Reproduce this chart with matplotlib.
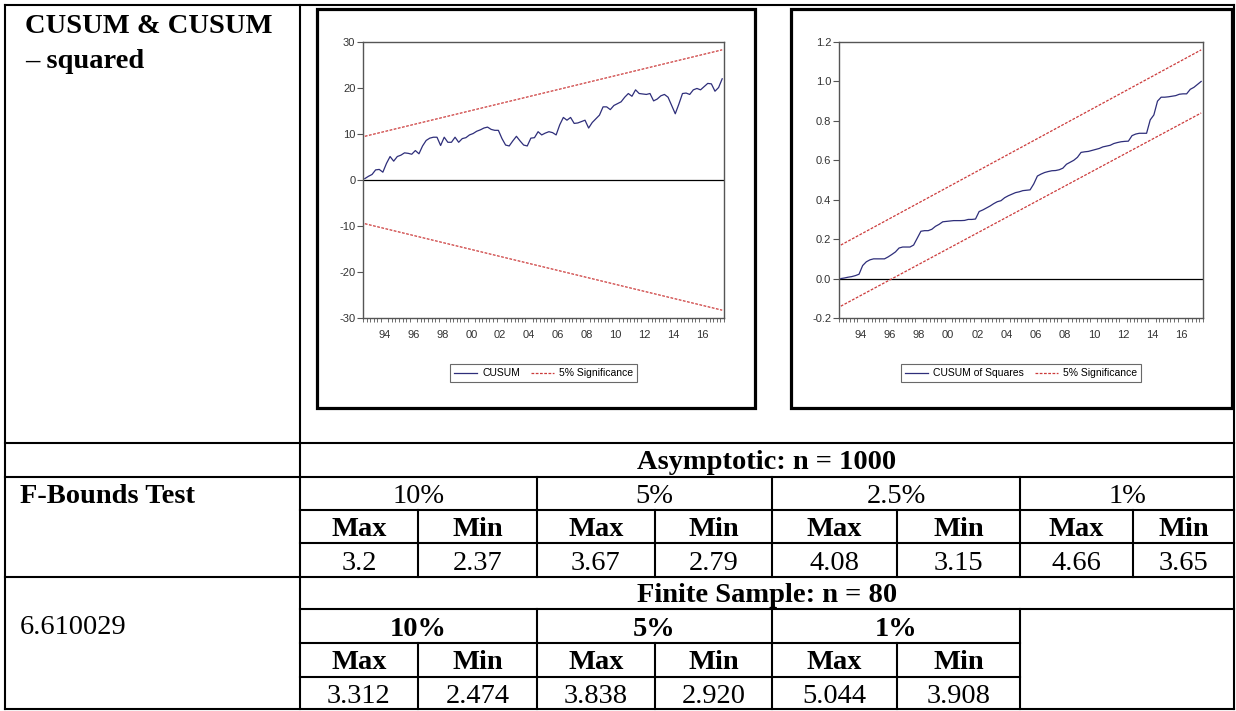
import numpy as np
import pandas as pd
import matplotlib
matplotlib.use("Agg")
import matplotlib.pyplot as plt
from matplotlib.patches import Rectangle

plt.rcParams["axes.unicode_minus"] = False

# ---- data ----
quarters = pd.period_range("1993Q1", "2017Q4", freq="Q")

cusum = [0.3, 0.8, 1.2, 2.2,
         2.3, 1.7, 3.6, 5.1,
         4.1, 5.1, 5.4, 5.9,
         5.8, 5.6, 6.4, 5.7,
         7.4, 8.6, 9.1, 9.3,
         9.3, 7.5, 9.3, 8.2,
         8.2, 9.3, 8.2, 9.0,
         9.2, 9.8, 10.1, 10.6,
         10.9, 11.3, 11.5, 11.0,
         10.8, 10.8, 9.0, 7.6,
         7.4, 8.5, 9.5, 8.5,
         7.6, 7.4, 9.1, 9.2,
         10.5, 9.8, 10.2, 10.5,
         10.3, 9.8, 12.0, 13.6,
         13.0, 13.6, 12.3, 12.4,
         12.7, 13.0, 11.3, 12.5,
         13.3, 14.1, 15.9, 15.9,
         15.3, 16.2, 16.6, 17.0,
         18.0, 18.8, 18.2, 19.6,
         18.8, 18.7, 18.6, 18.8,
         17.2, 17.6, 18.3, 18.6,
         18.0, 16.2, 14.4, 16.5,
         18.8, 18.9, 18.6, 19.6,
         19.9, 19.6, 20.3, 21.0,
         20.9, 19.3, 20.1, 22.0]

cusumsq = [0.000, 0.003, 0.007, 0.010,
           0.015, 0.022, 0.066, 0.085,
           0.095, 0.100, 0.100, 0.100,
           0.100, 0.110, 0.122, 0.135,
           0.155, 0.160, 0.160, 0.160,
           0.170, 0.205, 0.240, 0.243,
           0.243, 0.250, 0.265, 0.275,
           0.288, 0.290, 0.292, 0.294,
           0.294, 0.294, 0.295, 0.300,
           0.300, 0.302, 0.340, 0.348,
           0.358, 0.368, 0.380, 0.390,
           0.395, 0.410, 0.420, 0.428,
           0.436, 0.440, 0.446, 0.448,
           0.450, 0.480, 0.520, 0.530,
           0.538, 0.543, 0.547, 0.548,
           0.552, 0.560, 0.580, 0.590,
           0.600, 0.615, 0.640, 0.643,
           0.645, 0.650, 0.655, 0.660,
           0.668, 0.672, 0.676, 0.685,
           0.690, 0.694, 0.696, 0.697,
           0.725, 0.733, 0.737, 0.737,
           0.737, 0.805, 0.830, 0.900,
           0.920, 0.920, 0.922, 0.925,
           0.928, 0.935, 0.937, 0.937,
           0.960, 0.970, 0.985, 1.000]

band_quarters = pd.PeriodIndex(["1993Q1", "2017Q4"], freq="Q")
cusum_upper = [9.5, 28.3]
cusum_lower = [-9.5, -28.3]
cusumsq_upper = [0.17, 1.16]
cusumsq_lower = [-0.14, 0.84]

year_labels = ["94", "96", "98", "00", "02", "04", "06", "08", "10", "12", "14", "16"]
label_years = [1994, 1996, 1998, 2000, 2002, 2004, 2006, 2008, 2010, 2012, 2014, 2016]

asym_levels = ["10%", "5%", "2.5%", "1%"]
asym_max = ["3.2", "3.67", "4.08", "4.66"]
asym_min = ["2.37", "2.79", "3.15", "3.65"]
finite_levels = ["10%", "5%", "1%"]
finite_max = ["3.312", "3.838", "5.044"]
finite_min = ["2.474", "2.920", "3.908"]
f_stat = "6.610029"


def qpos(idx):
    # mid-quarter position in decimal years
    return idx.year + (idx.quarter - 0.5) / 4.0


W, H = 1236, 711
fig = plt.figure(figsize=(W / 100, H / 100), dpi=100)
fig.patch.set_facecolor("white")


def px_axes(x0, y0, x1, y1):
    return fig.add_axes([x0 / W, 1 - y1 / H, (x1 - x0) / W, (y1 - y0) / H])


# ---- table overlay ----
ov = fig.add_axes([0, 0, 1, 1])
ov.set_xlim(0, W)
ov.set_ylim(H, 0)
ov.axis("off")

lw_t = 1.5
def hline(y, x0, x1):
    ov.plot([x0, x1], [y, y], color="black", lw=lw_t, solid_capstyle="projecting")
def vline(x, y0, y1):
    ov.plot([x, x], [y0, y1], color="black", lw=lw_t, solid_capstyle="projecting")

L, R, T, B = 5, 1234, 5, 709
for y in [T, 443, 477, 577, B]:
    hline(y, L, R)
for y in [510, 543, 609]:
    hline(y, 300, R)
for y in [643, 677]:
    hline(y, 300, 1020)
for x in [L, 300, R]:
    vline(x, T, B)
for x in [537, 772, 1020]:
    vline(x, 477, 577)
    vline(x, 609, B)
for x in [418, 655, 897, 1133]:
    vline(x, 510, 577)
for x in [418, 655, 897]:
    vline(x, 643, B)

serif = ["Liberation Serif", "DejaVu Serif"]
fs = 20.5
ov.text(25, 33, "CUSUM & CUSUM", family=serif, fontsize=fs, fontweight="bold", va="baseline")
ov.text(25, 68, "\u2013 squared", family=serif, fontsize=fs, fontweight="bold", va="baseline")
ov.text(20, 503, "F-Bounds Test", family=serif, fontsize=fs, fontweight="bold", va="baseline")
ov.text(20, 634, f_stat, family=serif, fontsize=fs, va="baseline")
ov.text(767, 469, "Asymptotic: n = 1000", family=serif, fontsize=fs, fontweight="bold",
        va="baseline", ha="center")
ov.text(767, 602, "Finite Sample: n = 80", family=serif, fontsize=fs, fontweight="bold",
        va="baseline", ha="center")

edges = [300, 418, 537, 655, 772, 897, 1020, 1133, 1234]
for i, lab in enumerate(asym_levels):
    xc = (edges[2 * i] + edges[2 * i + 2]) / 2
    ov.text(xc, 503, lab, family=serif, fontsize=fs, ha="center", va="baseline")
    for j, (hdr, val) in enumerate([("Max", asym_max[i]), ("Min", asym_min[i])]):
        xs = (edges[2 * i + j] + edges[2 * i + j + 1]) / 2
        ov.text(xs, 536, hdr, family=serif, fontsize=fs, fontweight="bold", ha="center", va="baseline")
        ov.text(xs, 570, val, family=serif, fontsize=fs, ha="center", va="baseline")
for i, lab in enumerate(finite_levels):
    xc = (edges[2 * i] + edges[2 * i + 2]) / 2
    ov.text(xc, 636, lab, family=serif, fontsize=fs, fontweight="bold", ha="center", va="baseline")
    for j, (hdr, val) in enumerate([("Max", finite_max[i]), ("Min", finite_min[i])]):
        xs = (edges[2 * i + j] + edges[2 * i + j + 1]) / 2
        ov.text(xs, 669, hdr, family=serif, fontsize=fs, fontweight="bold", ha="center", va="baseline")
        ov.text(xs, 703, val, family=serif, fontsize=fs, ha="center", va="baseline")

# chart frames
ov.add_patch(Rectangle((317, 9), 755 - 317, 408 - 9, fill=False, lw=2.3, edgecolor="black"))
ov.add_patch(Rectangle((791, 9), 1232 - 791, 408 - 9, fill=False, lw=2.3, edgecolor="black"))

# ---- charts ----
sans = ["Liberation Sans Narrow", "Liberation Sans", "DejaVu Sans"]
navy = "#2e2e7a"
red = "#cc3b3b"
dash = (0, (2.2, 1.2))


def style_chart(ax):
    ax.set_xlim(1993, 2018)
    for s in ax.spines.values():
        s.set_color("#555555")
        s.set_linewidth(1.0)
    ax.set_xticks([y + 0.5 for y in label_years])
    ax.set_xticklabels(year_labels)
    ax.set_xticks(np.arange(1993, 2018.01, 0.25), minor=True)
    ax.tick_params(axis="x", which="major", length=0, pad=9)
    ax.tick_params(axis="x", which="minor", length=3, direction="out", color="#555555")
    ax.tick_params(axis="y", length=4, direction="out", color="#555555", pad=1.5)
    for lab in ax.get_xticklabels() + ax.get_yticklabels():
        lab.set_family(sans)
        lab.set_fontsize(8)
        lab.set_color("#333333")
    ax.axhline(0, color="black", lw=0.9, zorder=1)


ax1 = px_axes(363, 42, 724, 318)
ax1.plot(qpos(quarters), cusum, color=navy, lw=0.9, label="CUSUM")
ax1.plot(qpos(band_quarters), cusum_upper, color=red, lw=0.9, ls=dash, label="5% Significance")
ax1.plot(qpos(band_quarters), cusum_lower, color=red, lw=0.9, ls=dash)
ax1.set_ylim(-30, 30)
ax1.set_yticks([-30, -20, -10, 0, 10, 20, 30])
style_chart(ax1)
leg1 = ax1.legend(loc="upper center", bbox_to_anchor=(0.5, -0.148), ncol=2, frameon=True,
                  fancybox=False, prop={"family": sans, "size": 7.5}, handlelength=2.2,
                  columnspacing=1.0, handletextpad=0.5, borderpad=0.4)
leg1.get_frame().set_edgecolor("#444444")
leg1.get_frame().set_linewidth(0.8)

ax2 = px_axes(839, 42, 1203, 318)
ax2.plot(qpos(quarters), cusumsq, color=navy, lw=0.9, label="CUSUM of Squares")
ax2.plot(qpos(band_quarters), cusumsq_upper, color=red, lw=0.9, ls=dash, label="5% Significance")
ax2.plot(qpos(band_quarters), cusumsq_lower, color=red, lw=0.9, ls=dash)
ax2.set_ylim(-0.2, 1.2)
ax2.set_yticks([-0.2, 0.0, 0.2, 0.4, 0.6, 0.8, 1.0, 1.2])
ax2.set_yticklabels(["-0.2", "0.0", "0.2", "0.4", "0.6", "0.8", "1.0", "1.2"])
style_chart(ax2)
leg2 = ax2.legend(loc="upper center", bbox_to_anchor=(0.5, -0.148), ncol=2, frameon=True,
                  fancybox=False, prop={"family": sans, "size": 7.5}, handlelength=2.2,
                  columnspacing=1.0, handletextpad=0.5, borderpad=0.4)
leg2.get_frame().set_edgecolor("#444444")
leg2.get_frame().set_linewidth(0.8)

fig.savefig("out.png", dpi=100)
